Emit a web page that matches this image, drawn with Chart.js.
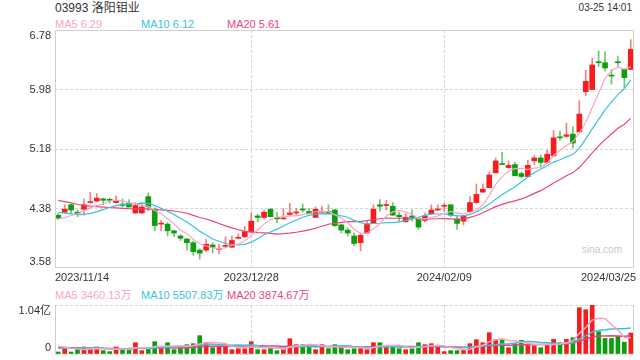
<!DOCTYPE html>
<html>
<head>
<meta charset="utf-8">
<script src="https://cdn.jsdelivr.net/npm/chart.js@4.4.1/dist/chart.umd.min.js"></script>
<style>
  body { margin: 0; width: 640px; height: 360px; overflow: hidden; background: #fff; position: relative;
         font-family: "Liberation Sans", Arial, "Noto Sans CJK SC", sans-serif; color: #333; }
  .t { position: absolute; white-space: nowrap; line-height: 14px; }
  canvas { position: absolute; left: 0; }
</style>
</head>
<body>
<div class="t" style="left:55px;top:1px;font-size:12px">03993 洛阳钼业</div>
<div class="t" style="right:8px;top:1px;font-size:10px">03-25 14:01</div>
<div id="maLegend"></div>
<div id="volLegend"></div>
<div class="t" style="left:582px;top:243px;font-size:10px;color:#c8c8c8">sina.com</div>
<canvas id="kline" width="640" height="290" style="top:0"></canvas>
<canvas id="vol" width="640" height="70" style="top:290px"></canvas>
<script>
const dates = [
  '2023/11/14','2023/11/15','2023/11/16','2023/11/17','2023/11/20','2023/11/21','2023/11/22','2023/11/23','2023/11/24','2023/11/27',
  '2023/11/28','2023/11/29','2023/11/30','2023/12/01','2023/12/04','2023/12/05','2023/12/06','2023/12/07','2023/12/08','2023/12/11',
  '2023/12/12','2023/12/13','2023/12/14','2023/12/15','2023/12/18','2023/12/19','2023/12/20','2023/12/21','2023/12/22','2023/12/27',
  '2023/12/28','2023/12/29','2024/01/02','2024/01/03','2024/01/04','2024/01/05','2024/01/08','2024/01/09','2024/01/10','2024/01/11',
  '2024/01/12','2024/01/15','2024/01/16','2024/01/17','2024/01/18','2024/01/19','2024/01/22','2024/01/23','2024/01/24','2024/01/25',
  '2024/01/26','2024/01/29','2024/01/30','2024/01/31','2024/02/01','2024/02/02','2024/02/05','2024/02/06','2024/02/07','2024/02/08',
  '2024/02/09','2024/02/14','2024/02/15','2024/02/16','2024/02/19','2024/02/20','2024/02/21','2024/02/22','2024/02/23','2024/02/26',
  '2024/02/27','2024/02/28','2024/02/29','2024/03/01','2024/03/04','2024/03/05','2024/03/06','2024/03/07','2024/03/08','2024/03/11',
  '2024/03/12','2024/03/13','2024/03/14','2024/03/15','2024/03/18','2024/03/19','2024/03/20','2024/03/21','2024/03/22','2024/03/25'
];

const opens = [
  4.29,4.33,4.43,4.33,4.37,4.46,4.48,4.51,4.50,4.46, 4.44,4.45,4.32,4.32,4.54,4.37,4.17,4.17,4.08,4.01,
  3.97,3.92,3.82,3.82,3.89,3.83,3.87,3.86,3.98,4.00, 4.07,4.28,4.26,4.37,4.26,4.24,4.30,4.32,4.37,4.34,
  4.26,4.33,4.34,4.36,4.16,4.09,4.01,3.92,4.05,4.18, 4.43,4.42,4.41,4.29,4.20,4.28,4.24,4.22,4.31,4.36,
  4.41,4.43,4.24,4.21,4.34,4.46,4.60,4.66,4.86,4.98, 4.93,4.97,4.85,4.81,5.02,5.06,5.00,5.09,5.34,5.35,
  5.38,5.41,5.95,5.98,6.35,6.34,6.17,6.35,6.25,6.25
];
const highs = [
  4.31,4.43,4.44,4.36,4.51,4.60,4.58,4.52,4.52,4.55, 4.51,4.50,4.46,4.46,4.59,4.39,4.22,4.19,4.09,4.03,
  3.98,3.94,3.84,3.97,3.92,3.90,4.00,4.01,4.04,4.14, 4.32,4.30,4.36,4.38,4.33,4.38,4.45,4.38,4.44,4.38,
  4.40,4.41,4.43,4.37,4.17,4.12,4.05,4.05,4.22,4.43, 4.50,4.49,4.46,4.33,4.31,4.36,4.25,4.32,4.43,4.43,
  4.45,4.43,4.28,4.29,4.54,4.71,4.71,4.87,5.06,5.14, 5.02,5.00,4.87,5.03,5.09,5.10,5.17,5.43,5.42,5.53,
  5.48,5.83,6.24,6.40,6.50,6.49,6.25,6.43,6.26,6.65
];
const lows = [
  4.23,4.33,4.31,4.27,4.29,4.45,4.47,4.43,4.45,4.45, 4.40,4.40,4.31,4.31,4.35,4.08,4.08,4.01,4.00,3.95,
  3.82,3.75,3.70,3.80,3.78,3.77,3.86,3.85,3.97,3.99, 4.06,4.20,4.24,4.27,4.19,4.24,4.29,4.29,4.33,4.31,
  4.26,4.32,4.31,4.14,4.05,4.01,3.88,3.81,4.05,4.18, 4.34,4.36,4.29,4.20,4.20,4.21,4.10,4.20,4.30,4.35,
  4.34,4.27,4.10,4.16,4.33,4.45,4.60,4.66,4.86,4.97, 4.92,4.82,4.79,4.80,4.97,4.95,4.99,5.08,5.30,5.34,
  5.19,5.41,5.90,5.98,6.29,6.23,6.05,6.29,6.01,6.25
];
const closes = [
  4.25,4.37,4.36,4.31,4.43,4.47,4.52,4.49,4.49,4.49, 4.42,4.40,4.42,4.40,4.40,4.15,4.18,4.08,4.05,3.98,
  3.92,3.80,3.78,3.90,3.86,3.84,3.88,3.95,3.98,4.07, 4.21,4.26,4.33,4.27,4.24,4.25,4.32,4.32,4.36,4.31,
  4.37,4.34,4.31,4.15,4.09,4.05,3.91,4.02,4.17,4.37, 4.41,4.43,4.29,4.27,4.26,4.26,4.13,4.28,4.36,4.37,
  4.41,4.29,4.18,4.28,4.46,4.57,4.64,4.83,5.02,4.97, 4.96,4.82,4.81,4.96,5.06,5.00,5.11,5.33,5.33,5.37,
  5.26,5.65,6.09,6.31,6.34,6.27,6.16,6.34,6.14,6.52
];
// closes before the visible window, estimated from where the MA lines start
const priorCloses = [4.72,4.70,4.74,4.69,4.66,4.64,4.62,4.60,4.58,4.55, 4.50,4.46,4.42,4.38,4.34, 4.28,4.22,4.20,4.25];

// volume in 万 shares
const volumes = [
  420,1270,420,1130,1490,1060,1490,710,500,1490, 1060,1060,2400,710,1270,2620,1270,2400,920,1630,
  1980,2190,3890,2480,1340,1700,1700,920,1130,1130, 2620,920,920,1410,710,1060,3250,1980,1980,1770,
  920,1980,1130,1980,1410,920,1130,1410,920,2400, 2400,1770,1560,1130,920,1130,2400,1980,2190,1630,
  500,710,710,920,2190,3040,2400,4530,3040,3040, 1340,2190,2900,1980,1770,1340,1980,3100,2400,3100,
  3460,9830,9400,10400,4740,3300,3300,3750,2500,4450
];
const priorVolumes = [1600,1500,1800,1700,1400,1650,1500,1900,1600,1630, 800,750,900,700,720, 1900,2000,1850,1960];

const priceTicks = [3.58, 4.38, 5.18, 5.98, 6.78];
const volTicks = [0, 10400];
const volTickLabels = ['0', '1.04亿'];
const xTickLabels = ['2023/11/14', '2023/12/28', '2024/02/09', '2024/03/25'];

const maNames = ['MA5', 'MA10', 'MA20'];
const maPeriods = [5, 10, 20];
const maValues = ['6.29', '6.12', '5.61'];
const volMaValues = ['3460.13万', '5507.83万', '3874.67万'];

const UP = '#f81c1c', DOWN = '#0c9e0c';
const UP_WICK = 'rgba(248,40,40,0.6)', DOWN_WICK = 'rgba(12,158,12,0.6)';
const maColors = ['#f8a5c5', '#36c3e1', '#ee4379'];
const GRID = '#d6d6d6', FRAME = '#cfcfcf';
const FONT = '11px "Liberation Sans", Arial, "Noto Sans CJK SC", sans-serif';

// legends
const legendX = [55, 141, 227];
function buildLegend(id, top, values) {
  document.getElementById(id).innerHTML = maNames.map((n, i) =>
    `<div class="t" style="left:${legendX[i]}px;top:${top}px;font-size:11px;color:${maColors[i]}">${n} ${values[i]}</div>`
  ).join('');
}
buildLegend('maLegend', 17, maValues);
buildLegend('volLegend', 288, volMaValues);

function movingAvg(prior, values, n) {
  const all = prior.concat(values);
  return values.map((_, i) => {
    const end = prior.length + i + 1;
    const win = all.slice(Math.max(0, end - n), end);
    return win.reduce((s, v) => s + v, 0) / win.length;
  });
}

const isUp = closes.map((c, i) => c >= opens[i]);
const xTickIdx = xTickLabels.map(l => dates.indexOf(l));

// frame, axis labels drawn on top of the chart area
const frame = {
  id: 'frame',
  afterDraw(chart, args, o) {
    const { ctx, chartArea: a } = chart;
    ctx.save();
    ctx.strokeStyle = FRAME;
    ctx.lineWidth = 1;
    ctx.beginPath();
    if (o.box) {
      ctx.rect(a.left + 0.5, a.top + 0.5, a.right - a.left - 1, a.bottom - a.top - 1);
    } else {
      ctx.moveTo(a.left + 0.5, a.top); ctx.lineTo(a.left + 0.5, a.bottom);
      ctx.moveTo(a.right - 0.5, a.top); ctx.lineTo(a.right - 0.5, a.bottom);
    }
    ctx.stroke();

    ctx.fillStyle = '#333';
    ctx.font = FONT;
    ctx.textBaseline = 'middle';
    ctx.textAlign = 'right';
    const y = chart.scales.y;
    o.ticks.forEach((v, i) => {
      let py = y.getPixelForValue(v);
      if (v === y.max) py += 5.5;
      else if (v === y.min) py -= 6;
      ctx.fillText(o.labels[i], a.left - 4, py);
    });

    if (o.xLabels) {
      const x = chart.scales.x;
      o.xLabels.forEach((l, i) => {
        let px = x.getPixelForValue(dates.indexOf(l));
        if (i === 0) { ctx.textAlign = 'left'; px = a.left; }
        else if (i === o.xLabels.length - 1) { ctx.textAlign = 'right'; px = a.right + 2; }
        else ctx.textAlign = 'center';
        ctx.fillText(l, px, a.bottom + 9.5);
      });
    }
    ctx.restore();
  }
};

function xScale(bottomSpace) {
  return {
    offset: true,
    grid: {
      offset: false, drawTicks: false,
      color: c => (c.index === 0 || c.index === xTickIdx.length - 1) ? 'transparent' : GRID
    },
    border: { display: false, dash: [3, 2] },
    ticks: { display: false },
    afterBuildTicks: s => { s.ticks = xTickIdx.map(i => ({ value: i })); },
    afterFit: s => { s.height = bottomSpace; }
  };
}

function maLine(data, i, width) {
  return {
    type: 'line', data, borderColor: maColors[i], borderWidth: width,
    pointRadius: 0, tension: 0, order: 0
  };
}

// price panel
new Chart(document.getElementById('kline'), {
  type: 'bar',
  data: {
    labels: dates,
    datasets: [
      ...maPeriods.map((n, i) => maLine(movingAvg(priorCloses, closes, n), i, 1.2)),
      {
        data: opens.map((o, i) => [o, closes[i]]),
        backgroundColor: isUp.map(u => u ? UP : DOWN),
        barThickness: 5, minBarLength: 1, grouped: false, order: 1
      },
      {
        data: lows.map((l, i) => [l, highs[i]]),
        backgroundColor: isUp.map(u => u ? UP_WICK : DOWN_WICK),
        barThickness: 1, grouped: false, order: 2
      }
    ]
  },
  options: {
    responsive: false,
    animation: false,
    layout: { padding: { top: 30, right: 6, left: 0, bottom: 0 } },
    plugins: {
      legend: { display: false },
      tooltip: { enabled: false },
      frame: { box: true, ticks: priceTicks, labels: priceTicks.map(v => v.toFixed(2)), xLabels: xTickLabels }
    },
    scales: {
      x: xScale(22),
      y: {
        min: 3.58, max: 6.78,
        grid: { drawTicks: false, color: c => (c.index === 0 || c.index === priceTicks.length - 1) ? 'transparent' : GRID },
        border: { display: false, dash: [3, 2] },
        ticks: { display: false },
        afterBuildTicks: s => { s.ticks = priceTicks.map(v => ({ value: v })); },
        afterFit: s => { s.width = 55; }
      }
    }
  },
  plugins: [frame]
});

// volume panel
new Chart(document.getElementById('vol'), {
  type: 'bar',
  data: {
    labels: dates,
    datasets: [
      ...maPeriods.map((n, i) => maLine(movingAvg(priorVolumes, volumes, n), i, 1.5)),
      {
        data: volumes,
        backgroundColor: isUp.map(u => u ? UP : DOWN),
        barThickness: 4, order: 1
      }
    ]
  },
  options: {
    responsive: false,
    animation: false,
    layout: { padding: { top: 15, right: 6, left: 0, bottom: 0 } },
    plugins: {
      legend: { display: false },
      tooltip: { enabled: false },
      frame: { box: false, ticks: volTicks, labels: volTickLabels }
    },
    scales: {
      x: xScale(6),
      y: {
        min: 0, max: 10400,
        grid: { drawTicks: false, color: GRID },
        border: { display: false, dash: [3, 2] },
        ticks: { display: false },
        afterBuildTicks: s => { s.ticks = volTicks.map(v => ({ value: v })); },
        afterFit: s => { s.width = 55; }
      }
    }
  },
  plugins: [frame]
});
</script>
</body>
</html>
